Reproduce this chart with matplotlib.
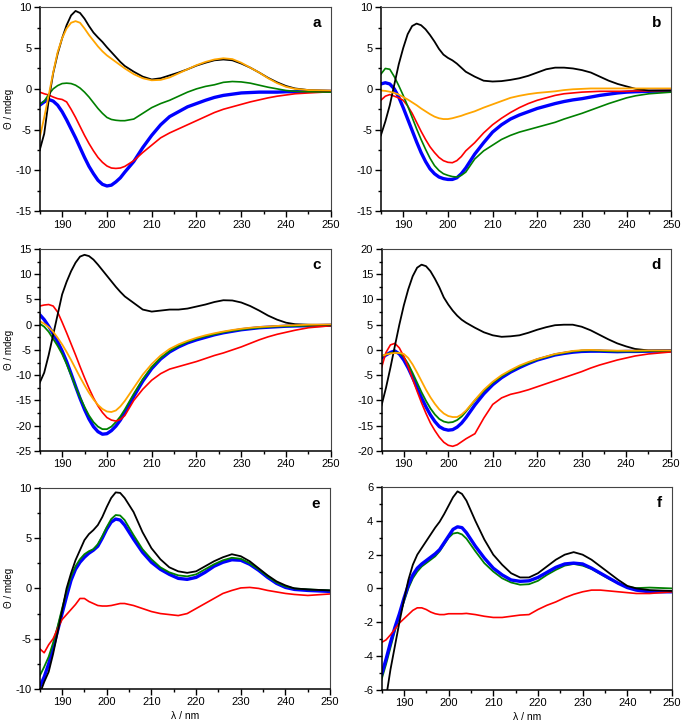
import matplotlib
matplotlib.use('Agg')
import matplotlib.pyplot as plt
from matplotlib.ticker import MultipleLocator

plt.rcParams['font.family'] = ['Liberation Sans', 'DejaVu Sans']
plt.rcParams['axes.unicode_minus'] = False

# wavelength grid (nm)
wl = [185, 186, 187, 188, 189, 190, 191, 192, 193, 194,
      195, 196, 197, 198, 199, 200, 201, 202, 203, 204,
      206, 208, 210, 212, 214, 216, 218, 220, 222, 224,
      226, 228, 230, 232, 234, 236, 238, 240, 242,
      245, 250]

# panel a
a_black = [-7.5, -5.5, -1.4, 1.9, 4.3, 6.2, 7.8, 9.0, 9.55, 9.3,
           8.6, 7.7, 6.9, 6.3, 5.75, 5.1, 4.5, 3.9, 3.3, 2.8,
           2.1, 1.5, 1.15, 1.3, 1.65, 2.0, 2.4, 2.85, 3.2, 3.5,
           3.6, 3.5, 3.1, 2.6, 2.0, 1.35, 0.8, 0.35, 0.05,
           -0.15, -0.25]
a_orange = [-6.0, -3.5, -0.8, 2.0, 4.5, 6.2, 7.4, 8.1, 8.3, 8.1,
            7.4, 6.6, 5.9, 5.2, 4.6, 4.1, 3.7, 3.3, 2.9, 2.5,
            1.8, 1.3, 1.05, 1.1, 1.4, 1.9, 2.4, 2.9, 3.3, 3.6,
            3.75, 3.65, 3.2, 2.6, 2.0, 1.3, 0.7, 0.25, 0.0,
            -0.15, -0.2]
a_green = [-1.9, -1.5, -0.7, 0.0, 0.4, 0.65, 0.7, 0.65, 0.45, 0.1,
           -0.4, -1.0, -1.7, -2.4, -3.0, -3.5, -3.75, -3.85, -3.9, -3.9,
           -3.7, -3.0, -2.3, -1.8, -1.4, -0.9, -0.4, 0.0, 0.3, 0.5,
           0.8, 0.9, 0.85, 0.7, 0.45, 0.2, 0.0, -0.2, -0.3,
           -0.35, -0.4]
a_blue = [-2.0, -1.6, -1.3, -1.5, -2.0, -2.8, -3.8, -4.9, -6.0, -7.2,
          -8.4, -9.5, -10.4, -11.2, -11.7, -11.9, -11.8, -11.4, -10.9, -10.2,
          -8.9, -7.2, -5.7, -4.4, -3.4, -2.8, -2.2, -1.8, -1.4, -1.05,
          -0.8, -0.65, -0.5, -0.45, -0.4, -0.4, -0.4, -0.35, -0.35,
          -0.3, -0.3]
a_red = [-0.4, -0.6, -0.75, -1.0, -1.2, -1.3, -1.6, -2.5, -3.5, -4.6,
         -5.7, -6.7, -7.6, -8.4, -9.0, -9.45, -9.7, -9.75, -9.7, -9.5,
         -8.8, -7.8, -6.9, -6.0, -5.4, -4.9, -4.4, -3.9, -3.4, -2.9,
         -2.5, -2.2, -1.9, -1.6, -1.35, -1.1, -0.9, -0.75, -0.6,
         -0.5, -0.35]

# panel b
b_black = [-5.7, -4.0, -2.0, 0.5, 3.0, 5.0, 6.7, 7.7, 8.0, 7.8,
           7.3, 6.6, 5.8, 4.9, 4.2, 3.8, 3.5, 3.1, 2.6, 2.1,
           1.5, 1.0, 0.9, 0.95, 1.1, 1.3, 1.6, 2.0, 2.4, 2.6,
           2.6, 2.5, 2.3, 2.0, 1.5, 1.0, 0.6, 0.3, 0.0,
           -0.2, -0.2]
b_orange = [-0.2, -0.25, -0.35, -0.5, -0.7, -1.0, -1.3, -1.65, -2.0, -2.4,
            -2.75, -3.1, -3.4, -3.6, -3.7, -3.7, -3.6, -3.45, -3.3, -3.1,
            -2.75, -2.3, -1.9, -1.5, -1.1, -0.85, -0.65, -0.5, -0.4, -0.3,
            -0.15, -0.05, 0.0, 0.05, 0.05, 0.05, 0.05, 0.05, 0.05,
            0.05, 0.05]
b_green = [1.8, 2.5, 2.4, 1.5, 0.4, -0.8, -2.1, -3.5, -4.9, -6.2,
           -7.4, -8.5, -9.4, -10.0, -10.4, -10.6, -10.75, -10.8, -10.6, -10.2,
           -8.6, -7.6, -6.9, -6.2, -5.7, -5.3, -5.0, -4.7, -4.4, -4.1,
           -3.7, -3.35, -3.0, -2.6, -2.2, -1.8, -1.45, -1.1, -0.85,
           -0.6, -0.4]
b_blue = [0.6, 0.75, 0.6, 0.0, -1.0, -2.3, -3.7, -5.1, -6.5, -7.8,
          -8.9, -9.8, -10.4, -10.8, -11.0, -11.1, -11.1, -10.9, -10.4, -9.7,
          -8.0, -6.6, -5.3, -4.4, -3.7, -3.2, -2.8, -2.4, -2.1, -1.8,
          -1.55, -1.35, -1.2, -1.0, -0.8, -0.65, -0.5, -0.4, -0.35,
          -0.3, -0.25]
b_red = [-1.4, -0.9, -0.7, -0.9, -1.1, -1.4, -2.1, -3.0, -4.1, -5.2,
         -6.2, -7.1, -7.8, -8.4, -8.8, -9.0, -9.05, -8.8, -8.3, -7.6,
         -6.6, -5.4, -4.4, -3.6, -2.9, -2.3, -1.8, -1.4, -1.1, -0.8,
         -0.6, -0.5, -0.4, -0.35, -0.3, -0.3, -0.3, -0.3, -0.25,
         -0.25, -0.2]

# panel c
c_black = [-11.5, -9.5, -6.0, -2.0, 2.0, 6.0, 8.5, 10.6, 12.3, 13.5,
           13.85, 13.6, 12.9, 11.9, 10.8, 9.7, 8.6, 7.5, 6.5, 5.6,
           4.3, 3.0, 2.6, 2.8, 3.0, 3.0, 3.2, 3.6, 4.0, 4.5,
           4.85, 4.8, 4.4, 3.7, 2.8, 1.8, 1.0, 0.4, 0.1,
           0.0, -0.1]
c_orange = [0.7, 0.2, -0.5, -1.4, -2.6, -3.9, -5.4, -7.0, -8.7, -10.4,
            -12.0, -13.5, -14.8, -15.9, -16.7, -17.2, -17.3, -17.0, -16.2, -15.1,
            -12.5, -9.9, -7.8, -6.1, -4.8, -3.9, -3.2, -2.6, -2.1, -1.7,
            -1.35, -1.05, -0.8, -0.6, -0.45, -0.35, -0.25, -0.15, -0.1,
            0.0, 0.05]
c_green = [0.2, -0.4, -1.4, -2.8, -4.2, -5.8, -7.8, -10.0, -12.3, -14.4,
           -16.3, -18.0, -19.3, -20.2, -20.7, -20.7, -20.2, -19.3, -18.2, -16.8,
           -13.7, -10.8, -8.4, -6.6, -5.2, -4.2, -3.4, -2.8, -2.3, -1.9,
           -1.5, -1.2, -0.95, -0.75, -0.6, -0.45, -0.35, -0.3, -0.25,
           -0.2, -0.15]
c_blue = [2.0, 1.0, -0.3, -1.8, -3.4, -5.2, -7.3, -9.7, -12.2, -14.6,
          -16.8, -18.7, -20.2, -21.2, -21.7, -21.6, -21.0, -20.1, -18.9, -17.4,
          -14.2, -11.2, -8.7, -6.8, -5.4, -4.4, -3.6, -3.0, -2.5, -2.0,
          -1.6, -1.3, -1.0, -0.8, -0.6, -0.5, -0.4, -0.3, -0.25,
          -0.2, -0.1]
c_red = [3.7, 3.9, 4.0, 3.7, 2.5, 0.5, -1.6, -3.8, -6.0, -8.3,
         -10.5, -12.6, -14.5, -16.1, -17.4, -18.4, -18.9, -19.1, -18.8, -18.0,
         -15.0, -12.8, -11.0, -9.7, -8.8, -8.3, -7.8, -7.3, -6.7, -6.1,
         -5.6, -5.0, -4.4, -3.7, -3.0, -2.4, -1.9, -1.5, -1.1,
         -0.6, -0.2]

# panel d
d_black = [-11.0, -7.5, -3.5, 0.8, 5.0, 8.8, 12.0, 14.6, 16.3, 16.9,
           16.6, 15.6, 14.1, 12.4, 10.4, 9.0, 7.8, 6.8, 6.0, 5.4,
           4.4, 3.5, 2.9, 2.6, 2.7, 2.9, 3.4, 4.0, 4.5, 4.9,
           5.0, 5.0, 4.6, 3.9, 3.0, 2.1, 1.3, 0.7, 0.2,
           -0.1, -0.1]
d_orange = [-1.2, -0.9, -0.7, -0.6, -0.6, -0.8, -1.6, -2.9, -4.5, -6.2,
            -7.9, -9.4, -10.7, -11.8, -12.6, -13.1, -13.3, -13.3, -12.8, -12.0,
            -9.9, -7.9, -6.3, -5.0, -4.0, -3.1, -2.4, -1.8, -1.3, -0.8,
            -0.5, -0.2, -0.05, 0.0, -0.05, -0.1, -0.15, -0.15, -0.15,
            -0.1, -0.1]
d_green = [-1.3, -0.9, -0.6, -0.5, -0.6, -1.4, -2.8, -4.6, -6.5, -8.4,
           -10.1, -11.6, -12.8, -13.7, -14.2, -14.4, -14.3, -13.9, -13.2, -12.2,
           -10.0, -8.1, -6.5, -5.2, -4.2, -3.3, -2.6, -1.9, -1.4, -0.9,
           -0.6, -0.3, -0.15, -0.1, -0.15, -0.25, -0.3, -0.3, -0.3,
           -0.25, -0.2]
d_blue = [-1.6, -1.0, -0.5, -0.2, -0.8, -2.0, -3.6, -5.5, -7.5, -9.5,
          -11.3, -12.9, -14.2, -15.2, -15.7, -15.9, -15.8, -15.3, -14.5, -13.4,
          -10.9, -8.7, -6.9, -5.5, -4.4, -3.5, -2.7, -2.0, -1.5, -1.0,
          -0.7, -0.45, -0.3, -0.25, -0.25, -0.3, -0.35, -0.3, -0.3,
          -0.25, -0.2]
d_red = [-3.5, -0.5, 1.0, 1.3, 0.4, -1.3, -3.4, -5.8, -8.2, -10.5,
         -12.6, -14.5, -16.0, -17.3, -18.3, -18.9, -19.1, -18.8, -18.2, -17.6,
         -16.6, -13.5, -10.8, -9.5, -8.8, -8.4, -7.9, -7.3, -6.7, -6.1,
         -5.5, -4.9, -4.3, -3.6, -3.0, -2.5, -2.0, -1.6, -1.2,
         -0.8, -0.4]

# panel e
e_black = [-10.5, -9.3, -8.3, -6.5, -4.4, -2.2, 0.0, 1.5, 2.8, 3.8,
           4.8, 5.4, 5.8, 6.3, 7.1, 8.1, 9.0, 9.55, 9.5, 9.0,
           7.6, 5.6, 4.0, 2.9, 2.1, 1.7, 1.55, 1.7, 2.2, 2.7,
           3.1, 3.4, 3.2, 2.7, 2.0, 1.3, 0.7, 0.3, 0.0,
           -0.1, -0.2]
e_green = [-8.7, -7.8, -6.8, -5.4, -3.8, -2.0, -0.3, 1.2, 2.2, 2.9,
           3.4, 3.7, 3.9, 4.4, 5.2, 6.1, 6.9, 7.3, 7.25, 6.8,
           5.3, 3.9, 2.9, 2.1, 1.6, 1.3, 1.2, 1.4, 1.9, 2.4,
           2.8, 3.05, 2.95, 2.5, 1.9, 1.2, 0.6, 0.2, 0.0,
           -0.1, -0.2]
e_blue = [-9.8, -8.8, -7.5, -5.9, -4.2, -2.5, -0.8, 0.8, 1.9, 2.6,
          3.1, 3.5, 3.8, 4.2, 5.0, 5.9, 6.6, 6.9, 6.8, 6.3,
          4.9, 3.6, 2.6, 1.9, 1.4, 1.0, 0.9, 1.1, 1.6, 2.2,
          2.6, 2.85, 2.8, 2.4, 1.8, 1.1, 0.5, 0.1, -0.1,
          -0.2, -0.3]
e_red = [-6.0, -6.4, -5.6, -5.0, -4.0, -3.1, -2.6, -2.1, -1.6, -1.0,
         -1.0, -1.3, -1.5, -1.7, -1.75, -1.75, -1.7, -1.6, -1.5, -1.5,
         -1.7, -2.0, -2.3, -2.5, -2.6, -2.7, -2.5, -2.0, -1.5, -1.0,
         -0.5, -0.2, 0.05, 0.1, 0.0, -0.2, -0.35, -0.5, -0.6,
         -0.7, -0.55]

# panel f
f_black = [-8.0, -6.5, -4.8, -3.4, -2.0, -0.7, 0.5, 1.4, 2.0, 2.4,
           2.8, 3.2, 3.6, 3.95, 4.4, 4.9, 5.4, 5.75, 5.6, 5.2,
           4.0, 2.9, 2.0, 1.4, 0.9, 0.65, 0.65, 0.9, 1.3, 1.7,
           2.0, 2.15, 2.0, 1.7, 1.3, 0.9, 0.5, 0.15, 0.0,
           -0.1, -0.15]
f_green = [-5.4, -4.5, -3.5, -2.5, -1.6, -0.8, 0.0, 0.6, 1.0, 1.3,
           1.5, 1.7, 1.9, 2.2, 2.6, 3.0, 3.25, 3.3, 3.2, 2.95,
           2.2, 1.5, 1.0, 0.6, 0.35, 0.22, 0.25, 0.45, 0.8, 1.1,
           1.35, 1.45, 1.35, 1.15, 0.85, 0.55, 0.3, 0.1, 0.02,
           0.05, 0.0]
f_blue = [-5.1, -4.2, -3.2, -2.3, -1.5, -0.6, 0.2, 0.8, 1.2, 1.45,
          1.65, 1.85, 2.05, 2.3, 2.7, 3.1, 3.5, 3.65, 3.6, 3.3,
          2.5, 1.8, 1.2, 0.8, 0.5, 0.42, 0.45, 0.65, 0.95, 1.25,
          1.45, 1.5, 1.45, 1.2, 0.9, 0.6, 0.3, 0.05, -0.1,
          -0.2, -0.2]
f_red = [-3.2, -3.05, -2.75, -2.4, -2.05, -1.8, -1.55, -1.3, -1.15, -1.15,
         -1.25, -1.4, -1.5, -1.55, -1.55, -1.5, -1.5, -1.5, -1.5, -1.48,
         -1.55, -1.65, -1.72, -1.72, -1.65, -1.58, -1.55, -1.25, -1.0, -0.8,
         -0.55, -0.35, -0.2, -0.1, -0.1, -0.15, -0.2, -0.25, -0.3,
         -0.3, -0.2]

panel_labels = ['a', 'b', 'c', 'd', 'e', 'f']
y_limits = [(-15, 10), (-15, 10), (-25, 15), (-20, 20), (-10, 10), (-6, 6)]
y_major = [5, 5, 5, 5, 5, 2]
y_minor = [2.5, 2.5, 2.5, 2.5, 2.5, 1]

# (series, colour, linewidth) in drawing order
panel_series = [
    [(a_blue, 'blue', 2.4), (a_red, 'red', 1.2), (a_green, 'green', 1.2),
     (a_black, 'black', 1.3), (a_orange, 'orange', 1.3)],
    [(b_blue, 'blue', 2.4), (b_red, 'red', 1.2), (b_green, 'green', 1.2),
     (b_black, 'black', 1.3), (b_orange, 'orange', 1.3)],
    [(c_blue, 'blue', 2.4), (c_green, 'green', 1.3), (c_red, 'red', 1.2),
     (c_black, 'black', 1.3), (c_orange, 'orange', 1.3)],
    [(d_blue, 'blue', 2.4), (d_green, 'green', 1.3), (d_red, 'red', 1.2),
     (d_black, 'black', 1.3), (d_orange, 'orange', 1.3)],
    [(e_blue, 'blue', 2.4), (e_green, 'green', 1.3), (e_red, 'red', 1.2),
     (e_black, 'black', 1.3)],
    [(f_green, 'green', 1.3), (f_blue, 'blue', 2.4), (f_red, 'red', 1.2),
     (f_black, 'black', 1.3)],
]

# axes rectangles in figure fraction
positions = [
    [0.058, 0.709, 0.425, 0.281], [0.556, 0.709, 0.424, 0.281],
    [0.058, 0.379, 0.425, 0.278], [0.557, 0.379, 0.422, 0.278],
    [0.058, 0.051, 0.424, 0.277], [0.557, 0.050, 0.424, 0.279],
]

fig = plt.figure(figsize=(6.85, 7.26), dpi=100)

for i in range(6):
    ax = fig.add_axes(positions[i])
    for ys, col, lw in panel_series[i]:
        ax.plot(wl, ys, color=col, lw=lw)
    ax.set_xlim(185, 250)
    ax.set_ylim(*y_limits[i])
    ax.xaxis.set_minor_locator(MultipleLocator(5))
    ax.yaxis.set_major_locator(MultipleLocator(y_major[i]))
    ax.yaxis.set_minor_locator(MultipleLocator(y_minor[i]))
    ax.set_xticks(range(190, 251, 10))
    ax.tick_params(which='major', direction='out', length=4, width=1, labelsize=8, pad=2)
    ax.tick_params(which='minor', direction='out', length=2.5, width=1)
    ax.tick_params(top=False, right=False, which='both')
    for s in ['left', 'bottom']:
        ax.spines[s].set_linewidth(1.1)
        ax.spines[s].set_color('black')
    for s in ['top', 'right']:
        ax.spines[s].set_linewidth(0.8)
        ax.spines[s].set_color('#444444')
    ax.text(0.965, 0.955, panel_labels[i], transform=ax.transAxes,
            ha='right', va='top', fontsize=11, fontweight='bold')
    if i % 2 == 0:
        ax.set_ylabel('Θ / mdeg', fontsize=7)
        ax.yaxis.set_label_coords(-0.088, 0.5)
    if i >= 4:
        ax.set_xlabel('λ / nm', fontsize=7.5, labelpad=3)

fig.savefig('out.png', dpi=100)
